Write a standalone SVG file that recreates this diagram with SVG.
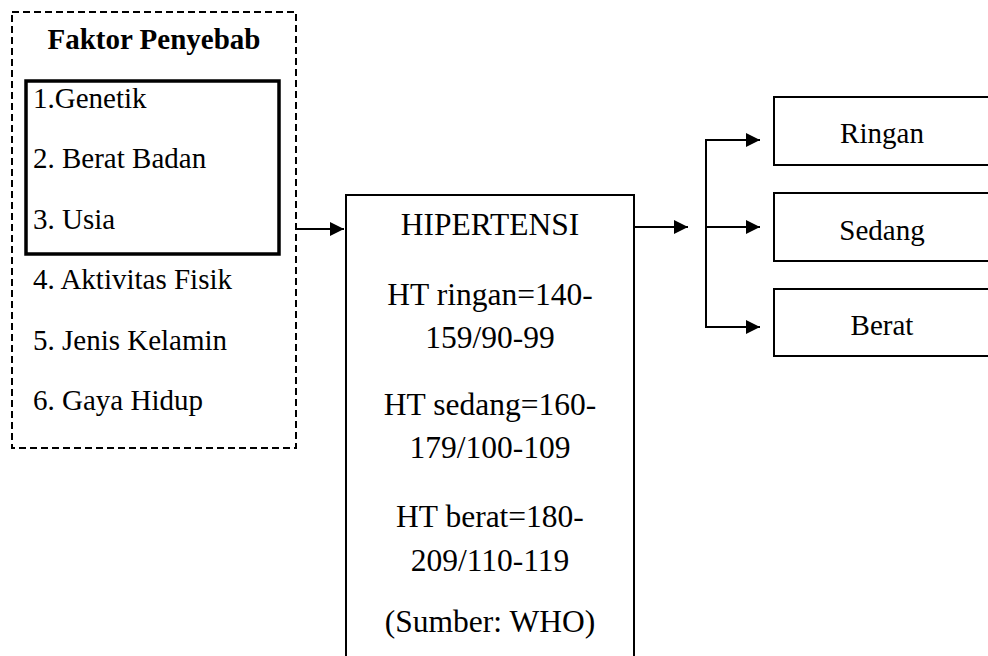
<svg xmlns="http://www.w3.org/2000/svg" width="988" height="656" viewBox="0 0 988 656">
<style>
.l{font-size:29px}
.m{font-size:31.5px;text-anchor:middle}
.r{font-size:29px;text-anchor:middle}
.box{fill:#fff;stroke:#000;stroke-width:2}
.ln{fill:none;stroke:#000;stroke-width:2}
</style>
<defs>
<marker id="ah" markerWidth="14" markerHeight="14" refX="14" refY="7" orient="auto" markerUnits="userSpaceOnUse">
<path d="M0,0 L14,7 L0,14 Z" fill="#000"/>
</marker>
</defs>
<rect width="988" height="656" fill="#fff"/>
<g font-family="'Liberation Serif', 'Times New Roman', serif" fill="#000">
<g id="faktor">
<rect x="12" y="12" width="284" height="436" fill="none" stroke="#000" stroke-width="2" stroke-dasharray="7,4"/>
<rect x="26" y="81" width="253" height="173" fill="none" stroke="#000" stroke-width="3.5"/>
<text x="154" y="49" font-size="29" font-weight="bold" text-anchor="middle">Faktor Penyebab</text>
<text class="l" x="33" y="108">1.Genetik</text>
<text class="l" x="33" y="168">2. Berat Badan</text>
<text class="l" x="33" y="229">3. Usia</text>
<text class="l" x="33" y="289">4. Aktivitas Fisik</text>
<text class="l" x="33" y="350">5. Jenis Kelamin</text>
<text class="l" x="33" y="410">6. Gaya Hidup</text>
</g>
<g id="hipertensi">
<rect class="box" x="346" y="195" width="288" height="480"/>
<text class="m" x="490" y="235">HIPERTENSI</text>
<text class="m" x="490" y="305">HT ringan=140-</text>
<text class="m" x="490" y="348">159/90-99</text>
<text class="m" x="490" y="415">HT sedang=160-</text>
<text class="m" x="490" y="458">179/100-109</text>
<text class="m" x="490" y="527">HT berat=180-</text>
<text class="m" x="490" y="571">209/110-119</text>
<text class="m" x="490" y="632">(Sumber: WHO)</text>
</g>
<g id="ringan">
<rect class="box" x="774" y="97" width="220" height="68"/>
<text class="r" x="882" y="143">Ringan</text>
</g>
<g id="sedang">
<rect class="box" x="774" y="193" width="220" height="68"/>
<text class="r" x="882" y="240">Sedang</text>
</g>
<g id="berat">
<rect class="box" x="774" y="289" width="220" height="67"/>
<text class="r" x="882" y="335">Berat</text>
</g>
</g>
<g id="connectors">
<line class="ln" x1="296" y1="229" x2="344" y2="229" marker-end="url(#ah)"/>
<line class="ln" x1="634" y1="227" x2="688" y2="227" marker-end="url(#ah)"/>
<path class="ln" d="M706,140 V327"/>
<line class="ln" x1="705" y1="140" x2="760" y2="140" marker-end="url(#ah)"/>
<line class="ln" x1="706" y1="227" x2="760" y2="227" marker-end="url(#ah)"/>
<line class="ln" x1="705" y1="327" x2="760" y2="327" marker-end="url(#ah)"/>
</g>
</svg>
